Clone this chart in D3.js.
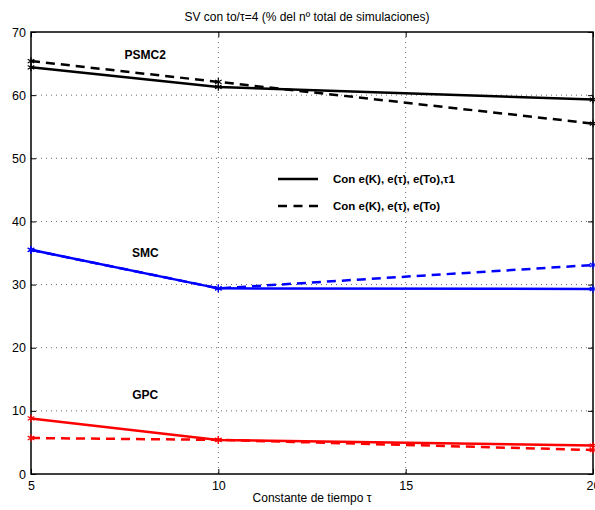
<!DOCTYPE html>
<html>
<head>
<meta charset="utf-8">
<script src="https://cdn.jsdelivr.net/npm/d3@7"></script>
<style>
  body { margin: 0; background: #fff; }
  svg { font-family: "Liberation Sans", Arial, sans-serif; }
</style>
</head>
<body>
<div id="chart"></div>
<script>
// x values (time constant tau)
const taus = [5, 10, 20];

// % of total simulations, per controller
const psmc2Solid = [64.4, 61.3, 59.3];
const psmc2Dashed = [65.4, 62.1, 55.5];
const smcSolid = [35.5, 29.4, 29.3];
const smcDashed = [35.5, 29.4, 33.1];
const gpcSolid = [8.8, 5.4, 4.5];
const gpcDashed = [5.7, 5.4, 3.8];

const xTicks = [5, 10, 15, 20];
const yTicks = [0, 10, 20, 30, 40, 50, 60, 70];

const legendLabels = ["Con e(K), e(\u03c4), e(To),\u03c41", "Con e(K), e(\u03c4), e(To)"];

const series = [
  { values: psmc2Solid, color: "#000", dashed: false },
  { values: psmc2Dashed, color: "#000", dashed: true },
  { values: smcSolid, color: "#0000ff", dashed: false },
  { values: smcDashed, color: "#0000ff", dashed: true },
  { values: gpcSolid, color: "#ff0000", dashed: false },
  { values: gpcDashed, color: "#ff0000", dashed: true }
];

const labels = [
  { text: "PSMC2", x: 8.05, y: 65.7 },
  { text: "SMC", x: 8.05, y: 34.4 },
  { text: "GPC", x: 8.05, y: 11.9 }
];

const width = 595, height = 510;
const margin = { top: 32, right: 2, bottom: 36, left: 31 };
const w = 593 - margin.left;
const h = 474 - margin.top;

const svg = d3.select("#chart").append("svg")
  .attr("width", width)
  .attr("height", height);

const g = svg.append("g")
  .attr("transform", "translate(" + margin.left + "," + margin.top + ")");

const x = d3.scaleLinear().domain([5, 20]).range([0, w]);
const y = d3.scaleLinear().domain([0, 70]).range([h, 0]);

// grid
g.append("g").selectAll("line")
  .data(xTicks.slice(1, -1))
  .join("line")
  .attr("x1", d => x(d)).attr("x2", d => x(d))
  .attr("y1", 0).attr("y2", h)
  .attr("stroke", "#000").attr("stroke-width", 0.6)
  .attr("stroke-dasharray", "1,4");

g.append("g").selectAll("line")
  .data(yTicks.slice(1, -1))
  .join("line")
  .attr("y1", d => y(d)).attr("y2", d => y(d))
  .attr("x1", 0).attr("x2", w)
  .attr("stroke", "#000").attr("stroke-width", 0.6)
  .attr("stroke-dasharray", "1,4");

// axes with inward ticks
const axisStyle = sel => {
  sel.select(".domain").remove();
  sel.selectAll("text").attr("font-size", 12.5).attr("fill", "#000");
};

g.append("g")
  .attr("transform", "translate(0," + h + ")")
  .call(d3.axisBottom(x).tickValues(xTicks).tickSizeInner(-5).tickSizeOuter(0).tickPadding(7))
  .call(axisStyle);

g.append("g")
  .call(d3.axisTop(x).tickValues(xTicks).tickSizeInner(-5).tickSizeOuter(0).tickFormat(""))
  .call(axisStyle);

g.append("g")
  .call(d3.axisLeft(y).tickValues(yTicks).tickSizeInner(-5).tickSizeOuter(0).tickPadding(5))
  .call(axisStyle);

g.append("g")
  .attr("transform", "translate(" + w + ",0)")
  .call(d3.axisRight(y).tickValues(yTicks).tickSizeInner(-5).tickSizeOuter(0).tickFormat(""))
  .call(axisStyle);

g.append("rect")
  .attr("width", w).attr("height", h)
  .attr("fill", "none").attr("stroke", "#000").attr("stroke-width", 1.5);

// lines
const line = d3.line()
  .x((d, i) => x(taus[i]))
  .y(d => y(d));

series.forEach(s => {
  g.append("path")
    .datum(s.values)
    .attr("fill", "none")
    .attr("stroke", s.color)
    .attr("stroke-width", 2.5)
    .attr("stroke-dasharray", s.dashed ? "9,6" : null)
    .attr("d", line);

  // asterisk markers
  const star = d3.symbol().type(d3.symbolAsterisk).size(40);
  g.append("g").selectAll("path")
    .data(s.values)
    .join("path")
    .attr("transform", (d, i) => "translate(" + x(taus[i]) + "," + y(d) + ")")
    .attr("d", star)
    .attr("fill", "none")
    .attr("stroke", s.color)
    .attr("stroke-width", 1.2);
});

// series labels
g.append("g").selectAll("text")
  .data(labels)
  .join("text")
  .attr("x", d => x(d.x))
  .attr("y", d => y(d.y))
  .attr("text-anchor", "middle")
  .attr("font-size", 12)
  .attr("font-weight", "bold")
  .text(d => d.text);

// legend
const legend = svg.append("g").attr("transform", "translate(278,179)");
legendLabels.forEach((t, i) => {
  legend.append("line")
    .attr("x1", 0).attr("x2", 40)
    .attr("y1", i * 27).attr("y2", i * 27)
    .attr("stroke", "#000").attr("stroke-width", 2.5)
    .attr("stroke-dasharray", i === 1 ? "9,6.5" : null);
  legend.append("text")
    .attr("x", 55).attr("y", i * 27 + 4)
    .attr("font-size", 11.5)
    .attr("font-weight", "bold")
    .text(t);
});

// title and axis label
svg.append("text")
  .attr("x", 307).attr("y", 21)
  .attr("text-anchor", "middle")
  .attr("font-size", 12)
  .text("SV con to/\u03c4=4 (% del n\u00ba total de simulaciones)");

svg.append("text")
  .attr("x", 312).attr("y", 502)
  .attr("text-anchor", "middle")
  .attr("font-size", 12)
  .text("Constante de tiempo \u03c4");
</script>
</body>
</html>
